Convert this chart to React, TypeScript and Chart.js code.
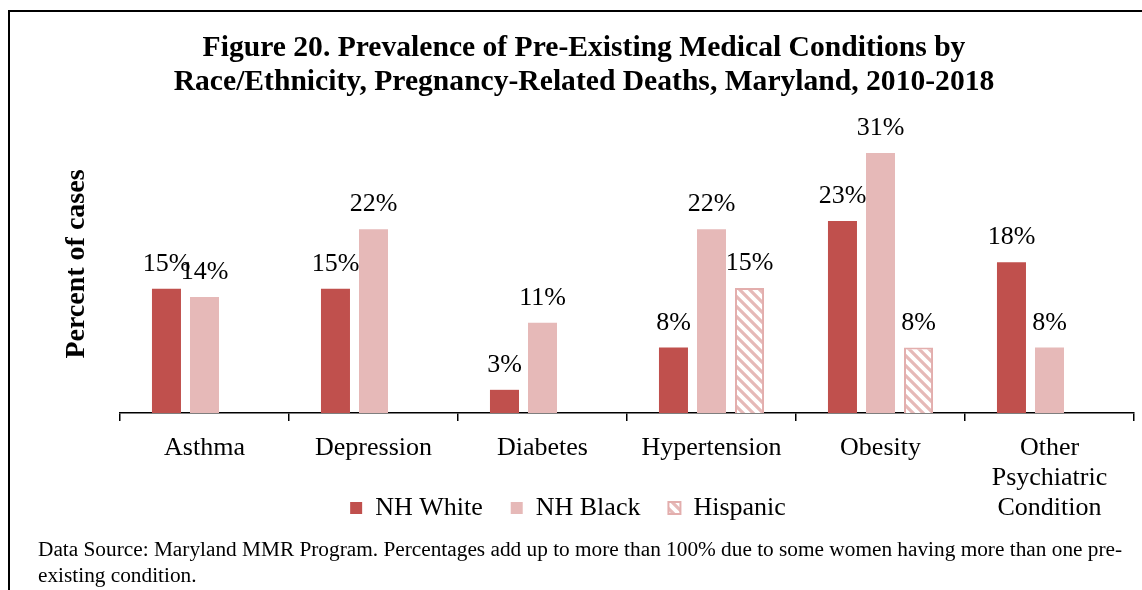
import React, { useEffect, useRef } from "react";
import { Chart, registerables } from "chart.js";

Chart.register(...registerables);

const CATEGORIES: (string | string[])[] = [
  "Asthma",
  "Depression",
  "Diabetes",
  "Hypertension",
  "Obesity",
  ["Other", "Psychiatric", "Condition"],
];
const NH_WHITE = [15.0, 15.0, 2.8, 7.9, 23.2, 18.2];
const NH_BLACK = [14.0, 22.2, 10.9, 22.2, 31.4, 7.9];
const HISPANIC = [null, null, null, 15.1, 7.9, null];
const SERIES_NAMES = ["NH White", "NH Black", "Hispanic"];
const TITLE_LINES = [
  "Figure 20. Prevalence of Pre-Existing Medical Conditions by",
  "Race/Ethnicity, Pregnancy-Related Deaths, Maryland, 2010-2018",
];
const FOOTNOTE_LINES = [
  "Data Source: Maryland MMR Program. Percentages add up to more than 100% due to some women having more than one pre-",
  "existing condition.",
];
const Y_AXIS_TITLE = "Percent of cases";
const Y_MIN = 0;
const Y_MAX = 36;

const SERIF = "'Liberation Serif', 'Times New Roman', serif";
const RED = "#C0504D";
const PINK = "#E6B9B8";
const PINK_BORDER = "#E3AEAD";

function makeHatch(): CanvasPattern | string {
  const size = 10;
  const c = document.createElement("canvas");
  c.width = size;
  c.height = size;
  const g = c.getContext("2d");
  if (!g) return PINK;
  g.fillStyle = "#ffffff";
  g.fillRect(0, 0, size, size);
  g.strokeStyle = PINK;
  g.lineWidth = 3.2;
  g.lineCap = "square";
  const seg = (x1: number, y1: number, x2: number, y2: number) => {
    g.beginPath();
    g.moveTo(x1, y1);
    g.lineTo(x2, y2);
    g.stroke();
  };
  seg(-2, -2, size + 2, size + 2);
  seg(-2, size - 2, 2, size + 2);
  seg(size - 2, -2, size + 2, 2);
  const p = g.createPattern(c, "repeat");
  return p || PINK;
}

const framePlugin = {
  id: "frameAndTexts",
  afterLayout(chart: any) {
    // let multi-line category labels extend below the (shortened) axis box
    if (chart.scales && chart.scales.x) chart.scales.x.bottom = chart.height;
  },
  beforeDraw(chart: any) {
    const ctx = chart.ctx;
    ctx.save();
    ctx.fillStyle = "#ffffff";
    ctx.fillRect(0, 0, chart.width, chart.height);
    ctx.restore();
  },
  afterDraw(chart: any) {
    const ctx = chart.ctx;
    ctx.save();
    // frame
    ctx.fillStyle = "#000000";
    ctx.fillRect(8, 10, chart.width - 8, 2);
    ctx.fillRect(8, 10, 2, chart.height - 10);
    // title
    ctx.font = `bold 29.6px ${SERIF}`;
    ctx.textAlign = "center";
    ctx.textBaseline = "alphabetic";
    TITLE_LINES.forEach((t, i) => ctx.fillText(t, 584, 56 + i * 34));
    // footnote
    ctx.font = `21.3px ${SERIF}`;
    ctx.textAlign = "left";
    FOOTNOTE_LINES.forEach((t, i) => ctx.fillText(t, 38, 556 + i * 26));
    ctx.restore();
  },
};

const valueLabelPlugin = {
  id: "valueLabels",
  afterDatasetsDraw(chart: any) {
    const ctx = chart.ctx;
    ctx.save();
    ctx.font = `26px ${SERIF}`;
    ctx.fillStyle = "#000000";
    ctx.textAlign = "center";
    ctx.textBaseline = "alphabetic";
    chart.data.datasets.forEach((ds: any, di: number) => {
      const meta = chart.getDatasetMeta(di);
      meta.data.forEach((el: any, i: number) => {
        const v = ds.data[i];
        if (v === null || v === undefined) return;
        ctx.fillText(`${Math.round(v)}%`, el.x, el.y - 18);
      });
    });
    ctx.restore();
  },
};

export default function App() {
  const ref = useRef<HTMLCanvasElement | null>(null);

  useEffect(() => {
    if (!ref.current) return;
    Chart.defaults.font.family = SERIF;
    const hatch = makeHatch();
    const chart = new Chart(ref.current, {
      type: "bar",
      data: {
        labels: CATEGORIES as any,
        datasets: [
          {
            label: SERIES_NAMES[0],
            data: NH_WHITE,
            backgroundColor: RED,
            borderWidth: 0,
            categoryPercentage: 0.675,
            barPercentage: 0.763,
          },
          {
            label: SERIES_NAMES[1],
            data: NH_BLACK,
            backgroundColor: PINK,
            borderWidth: 0,
            categoryPercentage: 0.675,
            barPercentage: 0.763,
          },
          {
            label: SERIES_NAMES[2],
            data: HISPANIC as any,
            backgroundColor: hatch as any,
            borderColor: PINK_BORDER,
            borderWidth: 2,
            categoryPercentage: 0.675,
            barPercentage: 0.763,
          },
        ],
      },
      options: {
        responsive: false,
        animation: false,
        layout: { padding: { left: 2, right: 8, top: 115, bottom: 59 } },
        plugins: {
          title: { display: false },
          tooltip: { enabled: false },
          legend: {
            display: true,
            position: "bottom",
            labels: {
              boxWidth: 12,
              boxHeight: 12,
              padding: 28,
              color: "#000000",
              font: { family: SERIF, size: 26 },
            },
          },
        },
        scales: {
          x: {
            afterFit: (s: any) => {
              s.height = 54;
            },
            border: { display: true, color: "#000000", width: 1.5 },
            grid: {
              display: true,
              offset: true,
              drawOnChartArea: false,
              drawTicks: true,
              tickLength: 8,
              color: "#000000",
              lineWidth: 1.5,
            },
            ticks: {
              autoSkip: false,
              maxRotation: 0,
              minRotation: 0,
              padding: 12,
              color: "#000000",
              font: { family: SERIF, size: 26, lineHeight: 1.15 },
            },
          },
          y: {
            min: Y_MIN,
            max: Y_MAX,
            afterFit: (s: any) => {
              s.width = 118;
            },
            border: { display: false },
            grid: { display: false, drawTicks: false },
            ticks: { display: false },
            title: {
              display: true,
              text: Y_AXIS_TITLE,
              color: "#000000",
              padding: { top: 61, bottom: 0 },
              font: { family: SERIF, size: 28, weight: "bold", lineHeight: 1.0 },
            },
          },
        },
      },
      plugins: [framePlugin, valueLabelPlugin],
    });
    return () => chart.destroy();
  }, []);

  return (
    <div style={{ position: "fixed", left: 0, top: 0, width: 1142, height: 590, background: "#fff" }}>
      <canvas ref={ref} width={1142} height={590} style={{ display: "block" }} />
    </div>
  );
}
